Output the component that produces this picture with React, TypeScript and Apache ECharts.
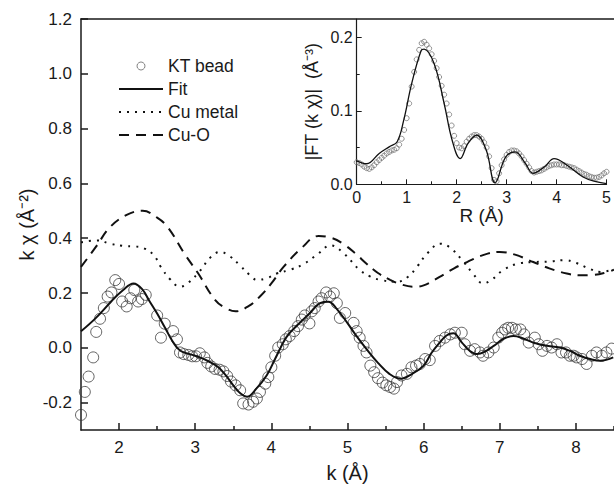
import React, { useEffect, useRef } from "react";
import * as echarts from "echarts";

// ---- Main plot data (k in Å^-1, k·chi) ----
const ktBead: number[][] = [
  [1.5, -0.245], [1.55, -0.161], [1.6, -0.105], [1.66, -0.035], [1.7, 0.058], [1.75, 0.106],
  [1.8, 0.145], [1.85, 0.187], [1.9, 0.202], [1.95, 0.247], [2.0, 0.233], [2.04, 0.169],
  [2.1, 0.151], [2.15, 0.181], [2.2, 0.211], [2.25, 0.169], [2.3, 0.178], [2.35, 0.193],
  [2.5, 0.118], [2.55, 0.037], [2.6, 0.088], [2.71, 0.061], [2.76, 0.031], [2.8, -0.017],
  [2.85, -0.023], [2.91, -0.026], [2.96, -0.031], [3.01, -0.031], [3.06, -0.02], [3.12, -0.035],
  [3.16, -0.055], [3.21, -0.068], [3.26, -0.077], [3.32, -0.08], [3.37, -0.086], [3.42, -0.103],
  [3.47, -0.123], [3.53, -0.137], [3.59, -0.155], [3.63, -0.203], [3.7, -0.207], [3.76, -0.197],
  [3.81, -0.185], [3.85, -0.161], [3.92, -0.131], [3.96, -0.107], [4.0, -0.071], [4.05, -0.029],
  [4.09, 0.001], [4.15, 0.013], [4.19, 0.031], [4.24, 0.043], [4.3, 0.061], [4.35, 0.079],
  [4.4, 0.103], [4.44, 0.118], [4.5, 0.089], [4.53, 0.133], [4.57, 0.145], [4.62, 0.169],
  [4.66, 0.181], [4.72, 0.202], [4.77, 0.187], [4.82, 0.199], [4.86, 0.163], [4.9, 0.109],
  [4.97, 0.127], [5.08, 0.091], [5.12, 0.061], [5.16, 0.037], [5.21, 0.007], [5.25, -0.017],
  [5.3, -0.065], [5.35, -0.089], [5.4, -0.111], [5.46, -0.127], [5.51, -0.137], [5.56, -0.143],
  [5.61, -0.149], [5.65, -0.125], [5.71, -0.101], [5.78, -0.095], [5.84, -0.071], [5.9, -0.065],
  [5.95, -0.059], [6.02, -0.041], [6.08, -0.045], [6.15, 0.007], [6.21, 0.025], [6.28, 0.037],
  [6.35, 0.049], [6.41, 0.055], [6.5, 0.055], [6.54, 0.013], [6.61, -0.011], [6.67, -0.005],
  [6.74, -0.017], [6.78, -0.029], [6.85, -0.017], [6.92, 0.001], [6.98, 0.037], [7.03, 0.055],
  [7.07, 0.067], [7.11, 0.073], [7.16, 0.073], [7.21, 0.067], [7.27, 0.067], [7.32, 0.049],
  [7.38, 0.019], [7.46, 0.037], [7.51, 0.013], [7.56, -0.011], [7.62, 0.007], [7.68, 0.001],
  [7.75, 0.013], [7.81, -0.017], [7.87, -0.017], [7.92, -0.029], [7.97, -0.029], [8.01, -0.035],
  [8.08, -0.041], [8.14, -0.059], [8.21, -0.029], [8.27, -0.017], [8.34, -0.029], [8.4, -0.017],
  [8.47, -0.003],
];

const fitLine: number[][] = [
  [1.5, 0.06], [1.7, 0.11], [1.9, 0.17], [2.05, 0.21], [2.19, 0.235], [2.3, 0.215], [2.4, 0.17],
  [2.5, 0.125], [2.6, 0.075], [2.7, 0.025], [2.8, -0.01], [2.95, -0.025], [3.06, -0.035],
  [3.18, -0.05], [3.3, -0.07], [3.4, -0.1], [3.5, -0.137], [3.6, -0.168], [3.68, -0.179],
  [3.8, -0.15], [3.94, -0.1], [4.05, -0.04], [4.2, 0.04], [4.35, 0.085], [4.5, 0.125],
  [4.64, 0.163], [4.75, 0.168], [4.85, 0.145], [5.0, 0.09], [5.1, 0.05], [5.25, -0.005],
  [5.4, -0.055], [5.55, -0.095], [5.7, -0.113], [5.85, -0.095], [6.0, -0.065], [6.1, -0.02],
  [6.21, 0.019], [6.3, 0.045], [6.39, 0.053], [6.5, 0.02], [6.6, -0.01], [6.7, -0.023],
  [6.8, -0.015], [6.92, 0.007], [7.05, 0.033], [7.18, 0.043], [7.3, 0.035], [7.44, 0.019],
  [7.6, 0.008], [7.79, 0.001], [7.95, -0.015], [8.05, -0.029], [8.2, -0.042], [8.32, -0.047],
  [8.49, -0.035],
];

const cuMetal: number[][] = [
  [1.5, 0.385], [1.72, 0.392], [1.88, 0.38], [2.05, 0.372], [2.2, 0.37], [2.32, 0.364],
  [2.45, 0.34], [2.55, 0.295], [2.67, 0.25], [2.8, 0.223], [2.9, 0.235], [3.06, 0.28],
  [3.2, 0.33], [3.33, 0.35], [3.45, 0.335], [3.59, 0.3], [3.72, 0.265], [3.81, 0.248],
  [3.95, 0.255], [4.07, 0.271], [4.25, 0.285], [4.42, 0.305], [4.6, 0.34], [4.78, 0.374],
  [4.95, 0.345], [5.16, 0.284], [5.3, 0.26], [5.43, 0.248], [5.65, 0.241], [5.8, 0.26],
  [5.91, 0.295], [6.05, 0.345], [6.22, 0.38], [6.35, 0.365], [6.52, 0.315], [6.65, 0.27],
  [6.78, 0.235], [6.9, 0.25], [7.05, 0.285], [7.25, 0.308], [7.45, 0.313], [7.65, 0.315],
  [7.85, 0.32], [8.0, 0.31], [8.18, 0.288], [8.32, 0.277], [8.5, 0.287],
];

const cuO: number[][] = [
  [1.5, 0.295], [1.7, 0.37], [1.88, 0.44], [2.1, 0.485], [2.31, 0.5], [2.5, 0.475],
  [2.64, 0.44], [2.86, 0.343], [3.04, 0.271], [3.26, 0.175], [3.4, 0.145], [3.53, 0.133],
  [3.7, 0.152], [3.85, 0.187], [4.0, 0.235], [4.16, 0.295], [4.4, 0.365], [4.62, 0.408],
  [4.8, 0.4], [4.94, 0.38], [5.1, 0.345], [5.25, 0.307], [5.4, 0.273], [5.56, 0.248],
  [5.72, 0.23], [5.86, 0.223], [6.0, 0.228], [6.21, 0.259], [6.4, 0.29], [6.57, 0.313],
  [6.8, 0.34], [7.0, 0.35], [7.2, 0.34], [7.44, 0.313], [7.65, 0.29], [7.88, 0.271],
  [8.05, 0.265], [8.23, 0.266], [8.4, 0.275], [8.5, 0.285],
];

// ---- Inset data (R in Å, |FT|) ----
const ftData: number[][] = [
  [0.0, 0.03], [0.05, 0.029], [0.1, 0.027], [0.15, 0.024], [0.2, 0.022], [0.25, 0.021],
  [0.3, 0.023], [0.35, 0.026], [0.4, 0.03], [0.45, 0.033], [0.5, 0.036], [0.55, 0.039],
  [0.6, 0.042], [0.65, 0.044], [0.7, 0.046], [0.75, 0.047], [0.8, 0.049], [0.85, 0.054],
  [0.9, 0.062], [0.95, 0.074], [1.0, 0.09], [1.05, 0.11], [1.1, 0.133], [1.15, 0.153],
  [1.2, 0.17], [1.25, 0.183], [1.3, 0.192], [1.35, 0.194], [1.4, 0.19], [1.45, 0.185],
  [1.5, 0.177], [1.55, 0.168], [1.6, 0.158], [1.65, 0.146], [1.7, 0.134], [1.75, 0.122],
  [1.8, 0.11], [1.85, 0.095], [1.9, 0.08], [1.95, 0.066], [2.0, 0.056], [2.05, 0.05],
  [2.1, 0.049], [2.15, 0.052], [2.2, 0.058], [2.25, 0.062], [2.3, 0.065], [2.35, 0.067],
  [2.4, 0.067], [2.45, 0.065], [2.5, 0.062], [2.55, 0.057], [2.6, 0.05], [2.65, 0.038],
  [2.7, 0.022], [2.75, 0.006], [2.8, 0.004], [2.85, 0.015], [2.9, 0.026], [2.95, 0.034],
  [3.0, 0.04], [3.05, 0.044], [3.1, 0.046], [3.15, 0.046], [3.2, 0.045], [3.25, 0.042],
  [3.3, 0.038], [3.35, 0.033], [3.4, 0.028], [3.45, 0.023], [3.5, 0.018], [3.55, 0.016],
  [3.6, 0.017], [3.65, 0.018], [3.7, 0.019], [3.75, 0.021], [3.8, 0.023], [3.85, 0.025],
  [3.9, 0.026], [3.95, 0.027], [4.0, 0.027], [4.05, 0.027], [4.1, 0.026], [4.15, 0.026],
  [4.2, 0.025], [4.25, 0.024], [4.3, 0.023], [4.35, 0.022], [4.4, 0.02], [4.45, 0.018],
  [4.5, 0.016], [4.55, 0.014], [4.6, 0.013], [4.65, 0.011], [4.7, 0.01], [4.75, 0.009],
  [4.8, 0.009], [4.85, 0.01], [4.9, 0.012], [4.95, 0.015], [5.0, 0.017],
];

const ftFit: number[][] = [
  [0.0, 0.032], [0.2, 0.028], [0.45, 0.042], [0.65, 0.051], [0.81, 0.058], [0.94, 0.087],
  [1.1, 0.137], [1.29, 0.182], [1.35, 0.184], [1.55, 0.164], [1.75, 0.11], [1.91, 0.06],
  [2.07, 0.035], [2.23, 0.056], [2.4, 0.067], [2.59, 0.047], [2.77, 0.002], [2.98, 0.037],
  [3.17, 0.044], [3.37, 0.029], [3.53, 0.015], [3.76, 0.024], [3.95, 0.035], [4.21, 0.026],
  [4.53, 0.01], [4.79, 0.0035], [5.0, 0.001],
];

// ---- Tick values ----
const mainXTicks = [2, 3, 4, 5, 6, 7, 8];
const mainXMinorTicks = [2.5, 3.5, 4.5, 5.5, 6.5, 7.5, 8.5];
const mainYTicks = [-0.2, 0, 0.2, 0.4, 0.6, 0.8, 1.0, 1.2];
const insetYTicks = [0, 0.1, 0.2];
const insetYMinorTicks = [0.05, 0.15];

const legendNames = ["KT bead", "Fit", "Cu metal", "Cu-O"];

const FONT = "'Liberation Sans', Arial, sans-serif";
const INK = "#1a1a1a";

export default function App() {
  const ref = useRef<HTMLDivElement>(null);

  useEffect(() => {
    if (!ref.current) return;
    const chart = echarts.init(ref.current, undefined, { renderer: "svg" });
    const axisLine = { show: true, onZero: false, lineStyle: { color: INK, width: 1.5 } };
    const mainLabel = { color: INK, fontSize: 17, fontFamily: FONT };
    const insetLabel = { color: INK, fontSize: 16, fontFamily: FONT };

    chart.setOption({
      animation: false,
      backgroundColor: "#ffffff",
      textStyle: { fontFamily: FONT, color: INK },
      grid: [
        { left: 81, top: 19, width: 533, height: 417, containLabel: false },
        { left: 356.7, top: 19, width: 257.3, height: 165.3, containLabel: false },
      ],
      legend: {
        data: legendNames.map((n, i) =>
          i === 0
            ? { name: n, itemStyle: { borderColor: "#666", borderWidth: 1 } }
            : { name: n, itemStyle: { opacity: 0 } }
        ),
        orient: "vertical",
        left: 118,
        top: 57,
        padding: 0,
        itemWidth: 44,
        itemHeight: 8,
        itemGap: 5,
        textStyle: { fontSize: 17.5, color: INK, fontFamily: FONT },
      },
      xAxis: [
        {
          gridIndex: 0, type: "value", position: "bottom", min: 1.5, max: 8.5,
          axisLine,
          axisTick: { show: true, inside: true, length: 7, customValues: mainXTicks, lineStyle: { color: INK, width: 1.5 } },
          axisLabel: { show: true, customValues: mainXTicks, margin: 9, ...mainLabel },
          splitLine: { show: false },
          name: "k (Å)", nameLocation: "middle", nameGap: 33,
          nameTextStyle: { fontSize: 20, color: INK, fontFamily: FONT },
        },
        {
          gridIndex: 0, type: "value", position: "bottom", min: 1.5, max: 8.5,
          axisLine: { show: false, onZero: false },
          axisTick: { show: true, inside: true, length: 4, customValues: mainXMinorTicks, lineStyle: { color: INK, width: 1.5 } },
          axisLabel: { show: false },
          splitLine: { show: false },
        },
        {
          gridIndex: 0, type: "value", position: "top", min: 1.5, max: 8.5,
          axisLine,
          axisTick: { show: false },
          axisLabel: { show: false },
          splitLine: { show: false },
        },
        {
          gridIndex: 1, type: "value", position: "bottom", min: 0, max: 5, interval: 1,
          axisLine: { show: true, onZero: false, lineStyle: { color: INK, width: 1.2 } },
          axisTick: { show: true, inside: true, length: 5, lineStyle: { color: INK, width: 1 } },
          minorTick: { show: true, splitNumber: 2, length: 3, lineStyle: { color: INK, width: 1 } },
          axisLabel: { show: true, margin: 5, ...insetLabel },
          splitLine: { show: false },
          name: "R (Å)", nameLocation: "middle", nameGap: 11,
          nameTextStyle: { fontSize: 19, color: INK, fontFamily: FONT },
        },
      ],
      yAxis: [
        {
          gridIndex: 0, type: "value", position: "left", min: -0.3, max: 1.2,
          axisLine,
          axisTick: { show: true, inside: true, length: 7, customValues: mainYTicks, lineStyle: { color: INK, width: 1.5 } },
          axisLabel: { show: true, customValues: mainYTicks, margin: 9, formatter: (v: number) => v.toFixed(1), ...mainLabel },
          splitLine: { show: false },
          name: "k χ (Å⁻²)", nameLocation: "middle", nameGap: 44, nameMoveOverlap: false,
          nameTextStyle: { fontSize: 20, color: INK, fontFamily: FONT },
        },
        {
          gridIndex: 1, type: "value", position: "left", min: 0, max: 0.225,
          axisLine: { show: true, onZero: false, lineStyle: { color: INK, width: 1.2 } },
          axisTick: { show: true, inside: true, length: 5, customValues: insetYTicks, lineStyle: { color: INK, width: 1 } },
          axisLabel: { show: true, customValues: insetYTicks, margin: 4, formatter: (v: number) => v.toFixed(1), ...insetLabel },
          splitLine: { show: false },
          name: "|FT (k χ)|  (Å⁻³)", nameLocation: "middle", nameGap: 36, nameMoveOverlap: false,
          nameTextStyle: { fontSize: 18, color: INK, fontFamily: FONT },
        },
        {
          gridIndex: 1, type: "value", position: "left", min: 0, max: 0.225,
          axisLine: { show: false, onZero: false },
          axisTick: { show: true, inside: true, length: 3, customValues: insetYMinorTicks, lineStyle: { color: INK, width: 1 } },
          axisLabel: { show: false },
          splitLine: { show: false },
        },
      ],
      series: [
        {
          name: "KT bead", type: "scatter", xAxisIndex: 0, yAxisIndex: 0, data: ktBead,
          symbol: "circle", symbolSize: 11,
          itemStyle: { color: "rgba(255,255,255,0)", borderColor: "#3c3c3c", borderWidth: 1 },
          z: 3,
        },
        {
          name: "Fit", type: "line", xAxisIndex: 0, yAxisIndex: 0, data: fitLine,
          smooth: 0.4, symbol: "none", itemStyle: { color: "#111" },
          lineStyle: { color: "#111", width: 2 }, z: 4,
        },
        {
          name: "Cu metal", type: "line", xAxisIndex: 0, yAxisIndex: 0, data: cuMetal,
          smooth: 0.4, symbol: "none", itemStyle: { color: "#111" },
          lineStyle: { color: "#111", width: 2, type: [2, 6] }, z: 4,
        },
        {
          name: "Cu-O", type: "line", xAxisIndex: 0, yAxisIndex: 0, data: cuO,
          smooth: 0.4, symbol: "none", itemStyle: { color: "#111" },
          lineStyle: { color: "#111", width: 2, type: [10, 7] }, z: 4,
        },
        {
          name: "FT data", type: "scatter", xAxisIndex: 3, yAxisIndex: 1, data: ftData,
          symbol: "circle", symbolSize: 5,
          itemStyle: { color: "rgba(255,255,255,0)", borderColor: "#777", borderWidth: 1 },
          z: 3,
        },
        {
          name: "FT fit", type: "line", xAxisIndex: 3, yAxisIndex: 1, data: ftFit,
          smooth: 0.4, symbol: "none", lineStyle: { color: "#111", width: 1.3 }, z: 4,
        },
      ],
    });
    return () => chart.dispose();
  }, []);

  return (
    <div
      ref={ref}
      style={{ position: "absolute", left: 0, top: 0, width: 614, height: 488, background: "#fff" }}
    />
  );
}
